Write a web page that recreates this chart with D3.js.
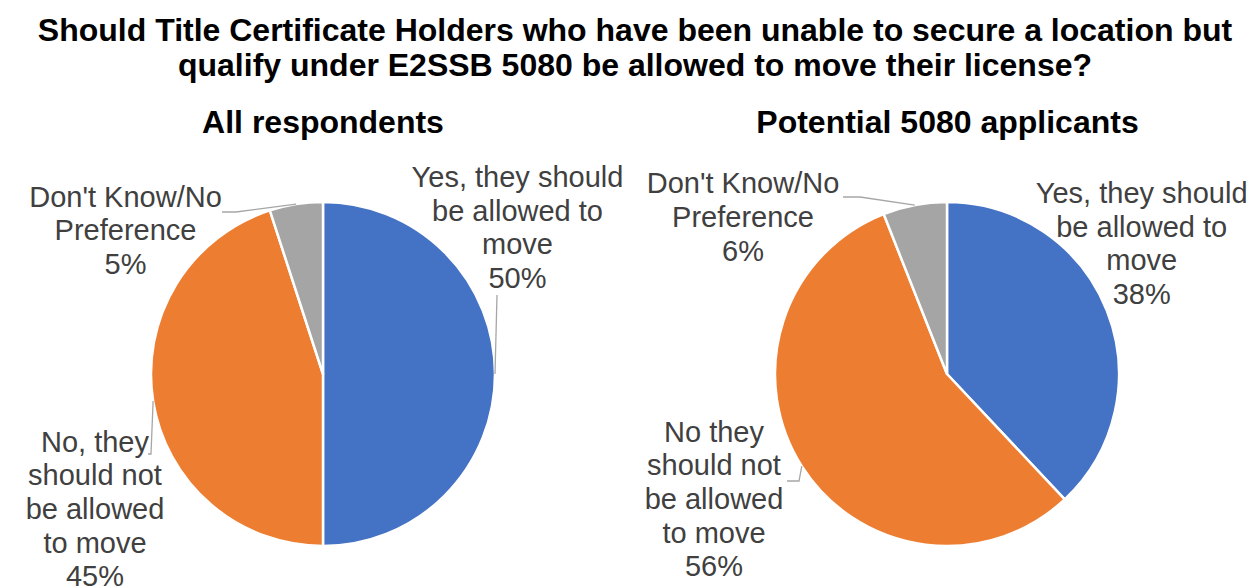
<!DOCTYPE html>
<html>
<head>
<meta charset="utf-8">
<script src="https://cdn.jsdelivr.net/npm/d3@7"></script>
<style>
  html, body { margin: 0; padding: 0; background: #ffffff; }
  svg { display: block; }
  text { font-family: "Liberation Sans", Arial, sans-serif; }
</style>
</head>
<body>
<svg id="chart" width="1260" height="588"></svg>
<script>
// Survey answers, in clockwise order from 12 o'clock
const categories = ["Yes", "No", "Don't Know/No Preference"];
const valuesAll = [50, 45, 5];
const valuesApplicants = [38, 56, 6];

// Data label text (category name lines; the percentage line is added from the value)
const labelLinesAll = [
  ["Yes, they should", "be allowed to", "move"],
  ["No, they", "should not", "be allowed", "to move"],
  ["Don't Know/No", "Preference"]
];
const labelLinesApplicants = [
  ["Yes, they should", "be allowed to", "move"],
  ["No they", "should not", "be allowed", "to move"],
  ["Don't Know/No", "Preference"]
];

const titleLines = [
  "Should Title Certificate Holders who have been unable to secure a location but",
  "qualify under E2SSB 5080 be allowed to move their license?"
];
const subtitles = ["All respondents", "Potential 5080 applicants"];

const colors = ["#4472C4", "#ED7D31", "#A5A5A5"];

const svg = d3.select("#chart");
const W = 1260;
const R = 172;
const lineH = 33.6;

// Chart title
svg.append("g").selectAll("text")
  .data(titleLines)
  .join("text")
  .attr("x", 635)
  .attr("y", (d, i) => 41 + i * 35)
  .attr("text-anchor", "middle")
  .attr("font-size", 32)
  .attr("font-weight", "bold")
  .attr("fill", "#000")
  .text(d => d);

// Label placement and leader-line knees, relative to each pie's centre
const layouts = [
  {
    cx: 323, cy: 374,
    labels: [
      { x: 194.5, y: -187, leader: [[174, -79]] },
      { x: -228, y: 77.7, leader: [[-172, 80], [-175, 80]] },
      { x: -197.5, y: -167.3, leader: [[-87, -162], [-101, -162]] }
    ]
  },
  {
    cx: 947, cy: 374,
    labels: [
      { x: 194.7, y: -171, leader: null },
      { x: -233, y: 67.7, leader: [[-148, 107], [-160, 107]] },
      { x: -204, y: -180.7, leader: [[-87, -177], [-104, -177]] }
    ]
  }
];

const datasets = [
  { values: valuesAll, lines: labelLinesAll },
  { values: valuesApplicants, lines: labelLinesApplicants }
];

const pie = d3.pie().sort(null).value(d => d);
const arc = d3.arc().innerRadius(0).outerRadius(R);
const edgeArc = d3.arc().innerRadius(R).outerRadius(R);

datasets.forEach((ds, k) => {
  const lay = layouts[k];
  const g = svg.append("g").attr("transform", `translate(${lay.cx},${lay.cy})`);

  // Subtitle above each pie
  svg.append("text")
    .attr("x", lay.cx + (k === 0 ? 0 : 0.5))
    .attr("y", 133)
    .attr("text-anchor", "middle")
    .attr("font-size", 32)
    .attr("font-weight", "bold")
    .attr("fill", "#000")
    .text(subtitles[k]);

  const arcs = pie(ds.values);

  g.selectAll("path.slice")
    .data(arcs)
    .join("path")
    .attr("class", "slice")
    .attr("d", arc)
    .attr("fill", (d, i) => colors[i])
    .attr("stroke", "#ffffff")
    .attr("stroke-width", 2.5)
    .attr("stroke-linejoin", "round");

  // Leader lines from the slice edge to the label
  arcs.forEach((a, i) => {
    const spec = lay.labels[i];
    if (!spec.leader) return;
    const start = edgeArc.centroid(a);
    const pts = [start, ...spec.leader];
    g.append("path")
      .attr("d", d3.line()(pts))
      .attr("fill", "none")
      .attr("stroke", "#A6A6A6")
      .attr("stroke-width", 1.3);
  });

  // Data labels
  arcs.forEach((a, i) => {
    const spec = lay.labels[i];
    const lines = ds.lines[i].concat([d3.format(".0f")(a.data) + "%"]);
    const t = g.append("text")
      .attr("text-anchor", "middle")
      .attr("font-size", 29)
      .attr("fill", "#404040");
    lines.forEach((ln, j) => {
      t.append("tspan")
        .attr("x", spec.x)
        .attr("y", spec.y + j * lineH)
        .text(ln);
    });
  });
});
</script>
</body>
</html>
